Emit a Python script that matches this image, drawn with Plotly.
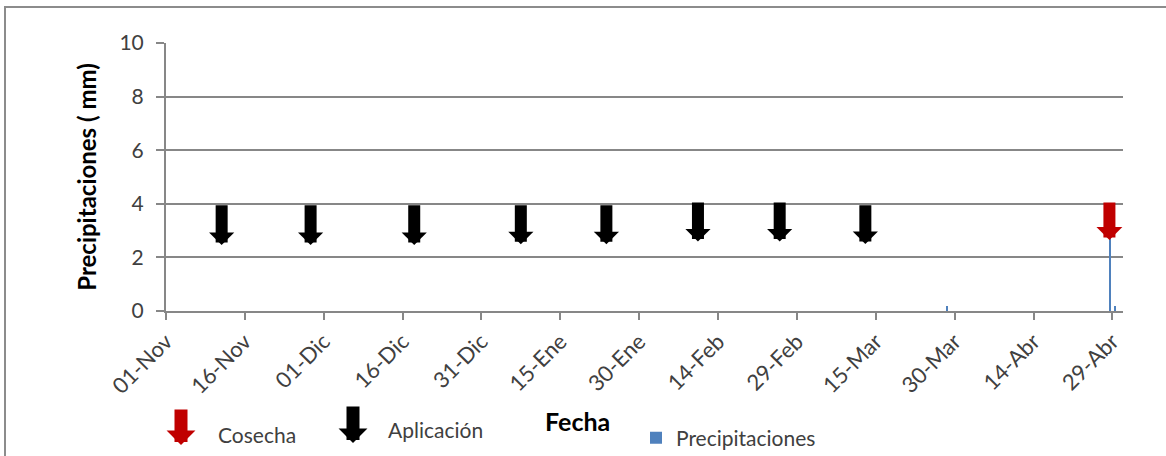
import plotly.graph_objects as go

# ---- data ----
tick_dates = ["2011-11-01", "2011-11-16", "2011-12-01", "2011-12-16", "2011-12-31",
              "2012-01-15", "2012-01-30", "2012-02-14", "2012-02-29", "2012-03-15",
              "2012-03-30", "2012-04-14", "2012-04-29"]
tick_labels = ["01-Nov", "16-Nov", "01-Dic", "16-Dic", "31-Dic", "15-Ene", "30-Ene",
               "14-Feb", "29-Feb", "15-Mar", "30-Mar", "14-Abr", "29-Abr"]

rain_dates = ["2012-03-28", "2012-04-28", "2012-04-29"]
rain_mm = [0.2, 3.0, 0.2]

app_dates = ["2011-11-11 14:00", "2011-11-28 12:00", "2011-12-18 05:00", "2012-01-07 11:30",
             "2012-01-23 18:00", "2012-02-10 04:00", "2012-02-25 17:00", "2012-03-13 00:00"]
app_top = [4.0, 4.0, 4.0, 4.0, 4.0, 4.1, 4.1, 4.0]
app_tip = [2.46, 2.46, 2.46, 2.49, 2.49, 2.59, 2.59, 2.5]

harvest_dates = ["2012-04-28 10:00"]
harvest_top = [4.1]
harvest_tip = [2.65]

FONT = "Lato"
GRID = "#878787"
TXT = "#404040"

fig = go.Figure()
fig.add_trace(go.Bar(
    x=rain_dates, y=rain_mm, name="Precipitaciones",
    marker=dict(color="#4F81BD", line=dict(width=0)),
    width=[0.4 * 86400000] * len(rain_dates),
    xperiod=86400000, xperiodalignment="middle",
    showlegend=True,
))

annotations = []
for d, t, p in zip(app_dates, app_top, app_tip):
    annotations.append(dict(x=d, y=p, ax=d, ay=t, xref="x", yref="y", axref="x", ayref="y",
                            text="", showarrow=True, arrowhead=1, arrowsize=0.35,
                            arrowwidth=12, arrowcolor="#000000", standoff=0))
for d, t, p in zip(harvest_dates, harvest_top, harvest_tip):
    annotations.append(dict(x=d, y=p, ax=d, ay=t, xref="x", yref="y", axref="x", ayref="y",
                            text="", showarrow=True, arrowhead=1, arrowsize=0.36,
                            arrowwidth=12, arrowcolor="#C00000", standoff=0))

# custom legend entries (arrows)
def px_x(px):
    return (px - 166) / 957.0

def px_y(py):
    return (311 - py) / 268.0

annotations += [
    dict(x=px_x(181), y=px_y(445), xref="paper", yref="paper", ax=0, ay=-37,
         text="", showarrow=True, arrowhead=1, arrowsize=0.37, arrowwidth=13,
         arrowcolor="#C00000", standoff=0),
    dict(x=px_x(353), y=px_y(443), xref="paper", yref="paper", ax=0, ay=-38,
         text="", showarrow=True, arrowhead=1, arrowsize=0.37, arrowwidth=13,
         arrowcolor="#000000", standoff=0),
    dict(x=px_x(216), y=px_y(434), xref="paper", yref="paper", xanchor="left", yanchor="middle",
         text="Cosecha", showarrow=False, font=dict(family=FONT, size=21, color=TXT)),
    dict(x=px_x(386), y=px_y(429), xref="paper", yref="paper", xanchor="left", yanchor="middle",
         text="Aplicación", showarrow=False, font=dict(family=FONT, size=21, color=TXT)),
    dict(x=px_x(543), y=px_y(421), xref="paper", yref="paper", xanchor="left", yanchor="middle",
         text="<b>Fecha</b>", showarrow=False, font=dict(family=FONT, size=25, color="#000000")),
]

fig.update_layout(
    width=1166, height=456,
    margin=dict(l=166, r=43, t=43, b=145, autoexpand=False),
    paper_bgcolor="white", plot_bgcolor="white",
    font=dict(family=FONT, size=20, color=TXT),
    bargap=0,
    annotations=annotations,
    legend=dict(x=px_x(636), y=px_y(438), xanchor="left", yanchor="middle",
                font=dict(family=FONT, size=21, color=TXT), bgcolor="rgba(0,0,0,0)",
                itemwidth=30),
    shapes=[dict(type="rect", xref="paper", yref="paper",
                 x0=px_x(5), x1=px_x(1220), y0=px_y(480), y1=px_y(7),
                 line=dict(color="#8C8C8C", width=2), fillcolor="rgba(0,0,0,0)", layer="below")],
    xaxis=dict(
        type="date", range=["2011-11-01", "2012-05-01"],
        tickmode="array", tickvals=tick_dates, ticktext=tick_labels, tickangle=-45,
        showgrid=False, showline=True, linecolor=GRID, linewidth=2,
        ticks="outside", ticklen=7, tickwidth=2, tickcolor=GRID,
        tickfont=dict(family=FONT, size=22, color=TXT), zeroline=False,
    ),
    yaxis=dict(
        range=[0, 10], tickvals=[0, 2, 4, 6, 8, 10],
        showgrid=True, gridcolor=GRID, gridwidth=2,
        showline=True, linecolor=GRID, linewidth=2,
        ticks="outside", ticklen=8, tickwidth=2, tickcolor=GRID,
        ticklabelstandoff=8,
        tickfont=dict(family=FONT, size=21, color=TXT), zeroline=False,
        title=dict(text="<b>Precipitaciones ( mm)</b>", font=dict(family=FONT, size=24, color="#000000"),
                   standoff=16),
    ),
)

fig.write_html("out.html", config={"displayModeBar": False},
               post_script="document.body.style.margin='0';document.body.style.overflow='hidden';")
